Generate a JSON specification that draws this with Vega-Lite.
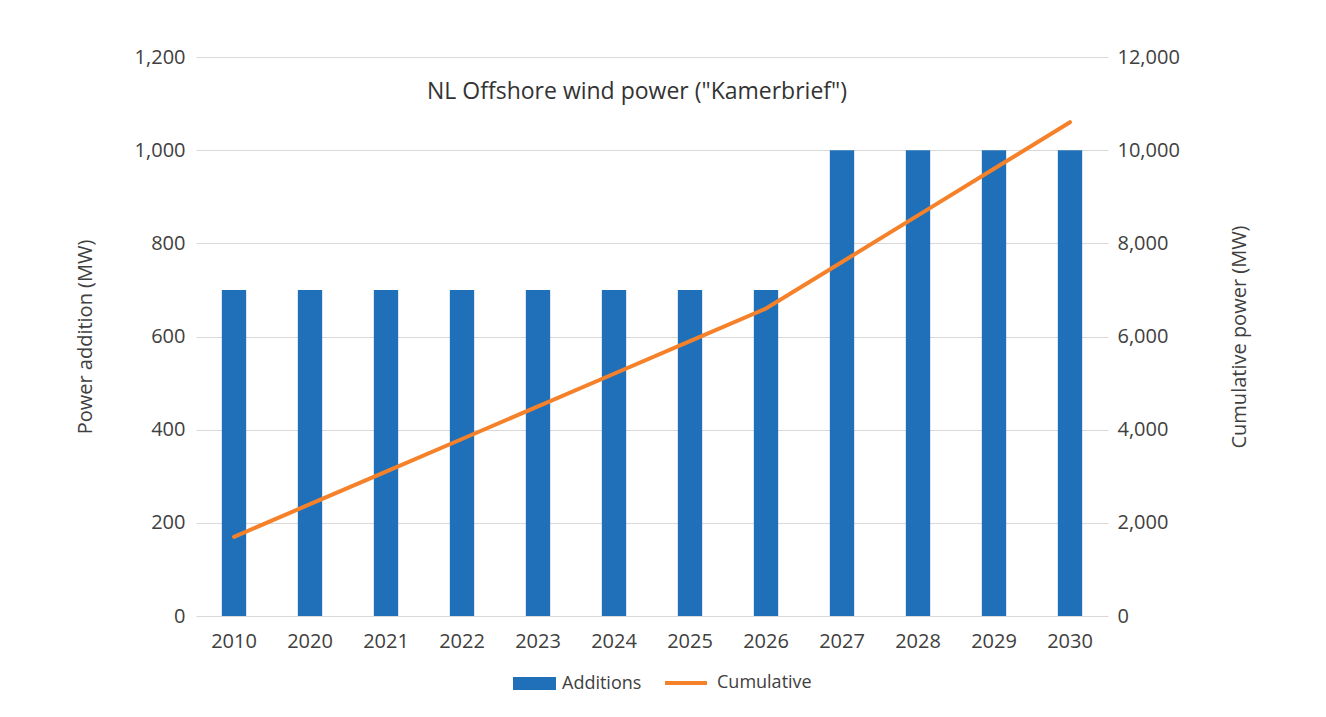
{
  "$schema": "https://vega.github.io/schema/vega-lite/v6.json",
  "width": 912,
  "height": 559,
  "autosize": {"type": "none"},
  "padding": {"left": 196, "top": 57, "right": 218, "bottom": 101},
  "background": "white",
  "title": {
    "text": "NL Offshore wind power (\"Kamerbrief\")",
    "fontSize": 23,
    "fontWeight": "normal",
    "font": "Open Sans",
    "color": "#333333",
    "anchor": "middle",
    "dx": -15,
    "offset": -80,
    "baseline": "bottom"
  },
  "data": {
    "values": [
      {"year": "2010", "additions": 700, "cumulative": 1700},
      {"year": "2020", "additions": 700, "cumulative": 2400},
      {"year": "2021", "additions": 700, "cumulative": 3100},
      {"year": "2022", "additions": 700, "cumulative": 3800},
      {"year": "2023", "additions": 700, "cumulative": 4500},
      {"year": "2024", "additions": 700, "cumulative": 5200},
      {"year": "2025", "additions": 700, "cumulative": 5900},
      {"year": "2026", "additions": 700, "cumulative": 6600},
      {"year": "2027", "additions": 1000, "cumulative": 7600},
      {"year": "2028", "additions": 1000, "cumulative": 8600},
      {"year": "2029", "additions": 1000, "cumulative": 9600},
      {"year": "2030", "additions": 1000, "cumulative": 10600}
    ]
  },
  "encoding": {
    "x": {
      "field": "year",
      "type": "nominal",
      "sort": null,
      "scale": {"paddingInner": 0.68, "paddingOuter": 0.34},
      "axis": {
        "title": null,
        "labelAngle": 0,
        "ticks": false,
        "domain": false,
        "labelPadding": 15,
        "labelFontSize": 20
      }
    }
  },
  "layer": [
    {
      "mark": {"type": "bar", "color": "#1F70B8"},
      "encoding": {
        "y": {
          "field": "additions",
          "type": "quantitative",
          "scale": {"domain": [0, 1200]},
          "axis": {
            "title": "Power addition (MW)",
            "values": [0, 200, 400, 600, 800, 1000, 1200],
            "format": ",d",
            "grid": true,
            "gridColor": "#d9d9d9",
            "ticks": false,
            "domain": false,
            "labelPadding": 11,
            "titlePadding": 39,
            "labelFontSize": 20,
            "titleFontSize": 20
          }
        },
        "fill": {
          "datum": "Additions",
          "scale": {"range": ["#1F70B8"]},
          "legend": {
            "title": null,
            "orient": "none",
            "legendX": 317,
            "legendY": 605,
            "symbolType": "M-1,-0.3H1V0.3H-1Z",
            "symbolSize": 1849,
            "symbolStrokeWidth": 0,
            "labelOffset": 6,
            "labelFontSize": 18
          }
        }
      }
    },
    {
      "mark": {"type": "line", "color": "#F5812A", "strokeWidth": 4, "strokeCap": "round"},
      "encoding": {
        "y": {
          "field": "cumulative",
          "type": "quantitative",
          "scale": {"domain": [0, 12000]},
          "axis": {
            "title": "Cumulative power (MW)",
            "orient": "right",
            "titleAngle": 270,
            "values": [0, 2000, 4000, 6000, 8000, 10000, 12000],
            "format": ",d",
            "grid": false,
            "ticks": false,
            "domain": false,
            "labelPadding": 9,
            "titlePadding": 70,
            "labelFontSize": 20,
            "titleFontSize": 20
          }
        },
        "stroke": {
          "datum": "Cumulative",
          "scale": {"range": ["#F5812A"]},
          "legend": {
            "title": null,
            "orient": "none",
            "legendX": 467,
            "legendY": 603,
            "symbolType": "stroke",
            "symbolSize": 1764,
            "symbolStrokeWidth": 4,
            "labelOffset": 8,
            "labelFontSize": 18
          }
        }
      }
    }
  ],
  "resolve": {"scale": {"y": "independent"}},
  "config": {
    "font": "Open Sans",
    "view": {"stroke": null},
    "axis": {
      "labelColor": "#404040",
      "titleColor": "#404040",
      "labelFont": "Open Sans",
      "titleFont": "Open Sans",
      "titleFontWeight": "normal"
    },
    "legend": {"labelColor": "#404040", "labelFont": "Open Sans"}
  }
}
